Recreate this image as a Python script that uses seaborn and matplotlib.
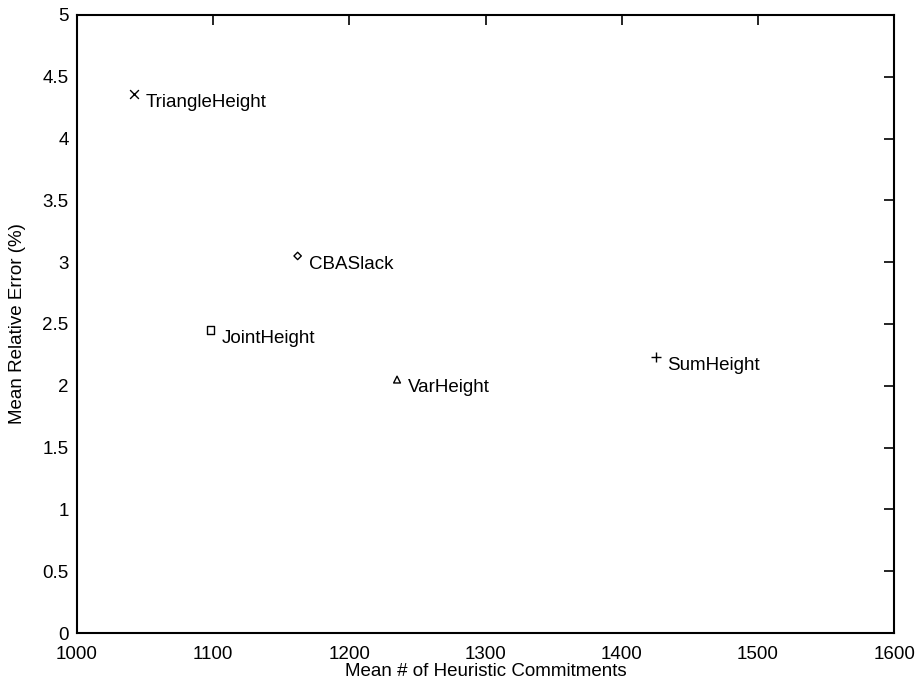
import matplotlib
matplotlib.use("Agg")
import matplotlib.pyplot as plt
import seaborn as sns
import pandas as pd

names = ["TriangleHeight", "CBASlack", "JointHeight", "VarHeight", "SumHeight"]
commitments = [1042, 1162, 1098, 1235, 1425]
rel_error = [4.36, 3.05, 2.45, 2.05, 2.23]
x_ticks = [1000, 1100, 1200, 1300, 1400, 1500, 1600]
y_ticks = [0, 0.5, 1, 1.5, 2, 2.5, 3, 3.5, 4, 4.5, 5]
y_tick_labels = ["0", "0.5", "1", "1.5", "2", "2.5", "3", "3.5", "4", "4.5", "5"]

sns.set_style("white")
plt.rcParams['font.family'] = ['Liberation Sans', 'DejaVu Sans']

df = pd.DataFrame({"name": names, "x": commitments, "y": rel_error})
markers = {"TriangleHeight": "x", "CBASlack": "D", "JointHeight": "s",
           "VarHeight": "^", "SumHeight": "+"}
sizes_map = {"TriangleHeight": 40, "CBASlack": 14, "JointHeight": 28,
             "VarHeight": 24, "SumHeight": 45}

fig = plt.figure(figsize=(9.17, 6.83), dpi=100)
ax = fig.add_axes([0.084, 0.0732, 0.891, 0.905])

for _, r in df.iterrows():
    m = markers[r["name"]]
    filled = m in ("x", "+")
    sns.scatterplot(x=[r["x"]], y=[r["y"]], ax=ax, marker=m,
                    s=sizes_map[r["name"]],
                    color="black" if filled else "none",
                    edgecolor="black", linewidth=1.0, legend=False)
    ax.annotate(r["name"], (r["x"], r["y"]), xytext=(8, -6),
                textcoords="offset points", fontsize=13.5, color="black",
                ha="left", va="center")

ax.set_xlim(1000, 1600)
ax.set_ylim(0, 5)
ax.set_xticks(x_ticks)
ax.set_yticks(y_ticks)
ax.set_yticklabels(y_tick_labels)
ax.tick_params(direction="in", length=7, width=1.2, top=True, right=True,
               labelsize=13.5, colors="black", pad=6)
ax.tick_params(axis="x", pad=9)
for s in ax.spines.values():
    s.set_linewidth(1.5)
    s.set_color("black")
ax.set_xlabel("Mean # of Heuristic Commitments", fontsize=13.5, color="black",
              labelpad=0)
ax.set_ylabel("Mean Relative Error (%)", fontsize=13.5, color="black",
              labelpad=12)

fig.savefig("out.png", dpi=100)
